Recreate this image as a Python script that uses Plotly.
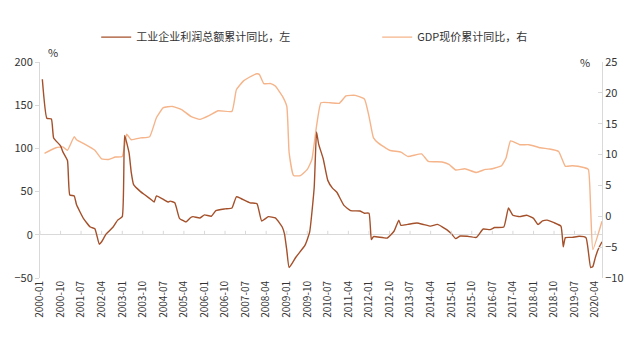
import plotly.graph_objects as go

# ---- data ----
# month index counted from 2000-01 (0) and value
profit_m = [1, 3, 5, 6, 9, 10, 12, 13, 15, 16, 19, 22, 24, 26, 27, 29, 32, 34, 36, 37,
            39, 40, 41, 44, 46, 49, 50, 51, 54, 56, 57, 59, 61, 63, 64, 66, 67, 70, 72, 75,
            77, 81, 84, 86, 88, 92, 95, 97, 100, 103, 105, 106, 107, 108, 109, 112, 116, 118, 120, 121,
            122, 124, 126, 128, 130, 131, 133, 136, 140, 142, 144, 145, 146, 152, 155, 157, 158, 161, 165, 168,
            171, 174, 178, 180, 182, 184, 187, 191, 194, 197, 199, 203, 205, 207, 210, 213, 216, 218, 220, 222,
            225, 228, 229, 230, 233, 236, 239, 241, 242, 243, 244, 245, 246]
profit_v = [180, 135, 134, 112, 103, 96, 86, 46, 45, 35, 19, 9, 7, -11, -8, 1, 9, 17, 21, 115,
            95, 72, 58, 50, 46, 40, 38, 45, 41, 38, 39, 37, 19, 16, 15, 20, 21, 19.5, 23, 21.5,
            28, 30, 31, 44, 42, 37, 36, 16, 21, 19.5, 13, 9, 1, -18, -38, -26, -12, 3, 55, 119,
            105, 88, 63, 54, 49, 44, 34, 28, 27.5, 25, 25, -5.5, -2, -3.7, 4.4, 17, 11, 12, 13.7, 11.8,
            10, 12, 6, 1.4, -4.4, -1.4, -1.7, -3, 6.7, 6, 8.4, 9, 31, 22.6, 21, 22.6, 19, 12, 16, 17,
            14, 10, -14, -3.3, -3, -1.7, -3.3, -38, -36.7, -27, -19, -13, -8]

gdp_m = [2, 7, 10, 12, 15, 16, 19, 24, 27, 30, 33, 36, 38, 40, 44, 48, 51, 54, 58, 62,
         66, 70, 74, 78, 84, 86, 89, 93, 95, 96, 98, 101, 103, 106, 108, 109, 111, 114, 117, 119,
         121, 123, 127, 131, 134, 138, 142, 144, 146, 148, 153, 158, 161, 167, 170, 176, 179, 182, 186, 191,
         195, 198, 202, 204, 206, 210, 214, 219, 223, 227, 230, 233, 238, 240, 241, 242, 246]
gdp_v = [10.2, 11.1, 11.25, 10.7, 12.9, 12.4, 11.8, 10.7, 9.3, 9.2, 9.6, 9.7, 13.3, 12.4, 12.7, 12.9, 16, 17.6, 17.8, 17.3,
         16.2, 15.7, 16.3, 17.1, 17, 20.5, 21.9, 22.8, 23.1, 23, 21.5, 21.5, 21.1, 19.5, 17.8, 10.3, 6.6, 6.6, 7.6, 9.2,
         14.6, 18.4, 18.4, 18.3, 19.5, 19.6, 19, 16.2, 12.7, 11.9, 10.7, 10.4, 9.7, 10.1, 8.9, 8.8, 8.4, 7.5, 7.7, 7.1,
         7.6, 7.7, 8.2, 9.5, 12.2, 11.6, 11.6, 11.1, 10.9, 10.5, 8.1, 8.2, 7.9, 7.6, 1.1, -5.4, -0.8]

series_names = ["工业企业利润总额累计同比，左", "GDP现价累计同比，右"]


def month_str(m):
    return f"{2000 + m // 12:04d}-{m % 12 + 1:02d}-01"


profit_x = [month_str(m) for m in profit_m]
gdp_x = [month_str(m) for m in gdp_m]

# tick labels every 9 months
tick_months = list(range(0, 244, 9))
tick_vals = [month_str(m) for m in tick_months]
tick_text = [month_str(m)[:7] for m in tick_months]

DARK = "#A4502A"
LIGHT = "#F5B48A"
AXC = "#D9D9D9"
FONT = "Noto Sans CJK SC"
TXT = "#333333"

fig = go.Figure()
fig.add_trace(go.Scatter(x=gdp_x, y=gdp_v, name=series_names[1], mode="lines",
                         line=dict(color=LIGHT, width=1.4, shape="spline", smoothing=0.4),
                         yaxis="y", legend="legend2"))
fig.add_trace(go.Scatter(x=profit_x, y=profit_v, name=series_names[0], mode="lines",
                         line=dict(color=DARK, width=1.4, shape="spline", smoothing=0.4),
                         yaxis="y2", legend="legend"))

shapes = []
for tv in tick_vals:
    shapes.append(dict(type="line", xref="x", yref="y2", x0=tv, x1=tv,
                       ysizemode="pixel", yanchor=0, y0=0, y1=4,
                       line=dict(color=AXC, width=1)))

legend_common = dict(orientation="h", y=1.115, xanchor="left", yanchor="middle",
                     font=dict(family=FONT, size=11, color=TXT),
                     bgcolor="rgba(0,0,0,0)")

fig.update_layout(
    width=640, height=338,
    margin=dict(l=40, r=38, t=62, b=60),
    paper_bgcolor="white", plot_bgcolor="white",
    font=dict(family=FONT, size=11, color=TXT),
    showlegend=True,
    legend=dict(x=0.1, **legend_common),
    legend2=dict(x=0.6, **legend_common),
    xaxis=dict(type="date", range=["2000-01-01", "2020-07-01"],
               tickmode="array", tickvals=tick_vals, ticktext=tick_text,
               tickangle=-90, showgrid=False, showline=False, zeroline=False,
               ticks="", tickfont=dict(family=FONT, size=10, color=TXT)),
    yaxis=dict(side="right", range=[-10, 25], dtick=5, showgrid=False, zeroline=False,
               showline=True, linecolor=AXC, ticks="inside", ticklen=4, tickcolor=AXC,
               tickfont=dict(family=FONT, size=11)),
    yaxis2=dict(side="left", overlaying="y", range=[-50, 200], dtick=50, showgrid=False,
                zeroline=True, zerolinecolor=AXC, zerolinewidth=1,
                showline=True, linecolor=AXC, ticks="outside", ticklen=4, tickcolor=AXC,
                tickfont=dict(family=FONT, size=11)),
    shapes=shapes,
    annotations=[
        dict(text="%", xref="paper", yref="paper", x=0.01, y=1.045, xanchor="left",
             yanchor="middle", showarrow=False, font=dict(family=FONT, size=11, color=TXT)),
        dict(text="%", xref="paper", yref="paper", x=0.982, y=1.0, xanchor="right",
             yanchor="middle", showarrow=False, font=dict(family=FONT, size=11, color=TXT)),
    ],
)

fig.write_html("out.html")
